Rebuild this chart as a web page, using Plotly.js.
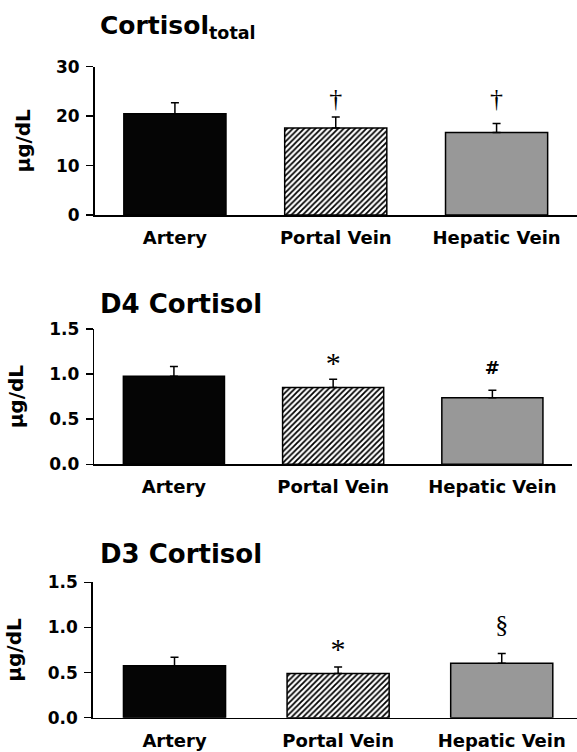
<!DOCTYPE html>
<html>
<head>
<meta charset="utf-8">
<script src="https://cdn.plot.ly/plotly-3.0.1.min.js"></script>
<style>html,body{margin:0;padding:0;background:#fff;}#chart{width:577px;height:752px;}</style>
</head>
<body>
<div id="chart"></div>
<script>
// ---- data ----
const categories = ["Artery", "Portal Vein", "Hepatic Vein"];

const totalMean = [20.5, 17.6, 16.7];
const totalSEM  = [2.2, 2.2, 1.8];
const totalSig  = ["", "†", "†"];
const totalSigY = [null, 23.1, 23.1];

const d4Mean = [0.975, 0.852, 0.737];
const d4SEM  = [0.108, 0.092, 0.084];
const d4Sig  = ["", "*", "#"];
const d4SigY = [null, 1.095, 1.05];

const d3Mean = [0.575, 0.489, 0.604];
const d3SEM  = [0.094, 0.074, 0.107];
const d3Sig  = ["", "*", "§"];
const d3SigY = [null, 0.735, 1.011];

const panelTitles = ["Cortisol<sub>total</sub>", "D4 Cortisol", "D3 Cortisol"];
const yTitle = "µg/dL";

// ---- styling ----
const FONT = "'DejaVu Sans', Arial, sans-serif";
const SERIF = "'Liberation Serif', 'Times New Roman', serif";
const barColors = ["#050505", "#ffffff", "#989898"];
const barPatterns = ["", "/", ""];

function barTraces(mean, sem, xa, ya, width) {
  return categories.map((c, i) => ({
    type: "bar", x: [c], y: [mean[i]], xaxis: xa, yaxis: ya, width: width,
    marker: {
      color: barColors[i],
      line: {color: "#000", width: 1.5},
      pattern: barPatterns[i] ? {shape: barPatterns[i], fgcolor: "#000", bgcolor: "#fff", size: 4, solidity: 0.45} : undefined
    },
    error_y: {type: "data", array: [sem[i]], symmetric: false, arrayminus: [0],
              color: "#000", thickness: 1.5, width: 4},
    showlegend: false, hoverinfo: "skip"
  }));
}
function sigTrace(sig, sigY, xa, ya) {
  const idx = sig.map((s, i) => i).filter(i => sig[i] !== "");
  return {
    type: "scatter", mode: "text",
    x: idx.map(i => categories[i]), y: idx.map(i => sigY[i]), text: idx.map(i => sig[i]),
    xaxis: xa, yaxis: ya,
    textposition: "middle center",
    textfont: {
      family: idx.map(i => sig[i] === "#" ? FONT : SERIF),
      size: idx.map(i => sig[i] === "#" ? 18 : (sig[i] === "*" ? 30 : 26)),
      color: "#000",
      weight: idx.map(i => sig[i] === "#" ? 700 : 400)
    },
    showlegend: false, hoverinfo: "skip", cliponaxis: false
  };
}

const data = [].concat(
  barTraces(totalMean, totalSEM, "x", "y", 0.635),
  [sigTrace(totalSig, totalSigY, "x", "y")],
  barTraces(d4Mean, d4SEM, "x2", "y2", 0.635),
  [sigTrace(d4Sig, d4SigY, "x2", "y2")],
  barTraces(d3Mean, d3SEM, "x3", "y3", 0.624),
  [sigTrace(d3Sig, d3SigY, "x3", "y3")]
);

const W = 577, H = 752;
function px(x) { return x / W; }
function py(y) { return (H - y) / H; }

function xAxis(dom, range, ya) {
  return {
    domain: dom, range: range, anchor: ya, type: "category",
    showline: true, linecolor: "#000", linewidth: 1.5,
    ticks: "", showgrid: false, zeroline: false, fixedrange: true,
    tickfont: {family: FONT, size: 18, color: "#000", weight: 700},
    ticklabelstandoff: 6
  };
}
function yAxis(dom, range, dtick, fmt, xa) {
  return {
    domain: dom, range: range, anchor: xa, dtick: dtick, tick0: 0, tickformat: fmt,
    showline: true, linecolor: "#000", linewidth: 1.5,
    ticks: "outside", ticklen: 7, tickwidth: 1.5, tickcolor: "#000",
    showgrid: false, zeroline: false, fixedrange: true,
    tickfont: {family: FONT, size: 17, color: "#000", weight: 700},
    ticklabelstandoff: 3,
    title: {text: yTitle, font: {family: FONT, size: 20, color: "#000", weight: 700}, standoff: 20}
  };
}

const titleFont = {family: FONT, size: 26, color: "#000", weight: 700};
const layout = {
  width: W, height: H,
  margin: {l: 0, r: 0, t: 0, b: 0},
  paper_bgcolor: "#fff", plot_bgcolor: "#fff",
  font: {family: FONT, color: "#000"},
  barmode: "overlay",
  xaxis:  xAxis([px(94.5), 1], [-0.5, 2.5], "y"),
  xaxis2: xAxis([px(94.3), px(572)], [-0.5, 2.5], "y2"),
  xaxis3: xAxis([px(92.7), 1], [-0.5, 2.46], "y3"),
  yaxis:  yAxis([py(215), py(66.7)], [0, 30], 10, "d", "x"),
  yaxis2: yAxis([py(464.3), py(329)], [0, 1.5], 0.5, ".1f", "x2"),
  yaxis3: yAxis([py(717.7), py(582.3)], [0, 1.5], 0.5, ".1f", "x3"),
  annotations: [
    {text: panelTitles[0], x: px(98), y: py(27), xref: "paper", yref: "paper", xanchor: "left", yanchor: "middle", showarrow: false, font: {family: FONT, size: 25, color: "#000", weight: 700}},
    {text: panelTitles[1], x: px(98), y: py(303.5), xref: "paper", yref: "paper", xanchor: "left", yanchor: "middle", showarrow: false, font: titleFont},
    {text: panelTitles[2], x: px(98), y: py(553.7), xref: "paper", yref: "paper", xanchor: "left", yanchor: "middle", showarrow: false, font: titleFont}
  ]
};

Plotly.newPlot("chart", data, layout, {staticPlot: true, displayModeBar: false});
</script>
</body>
</html>
